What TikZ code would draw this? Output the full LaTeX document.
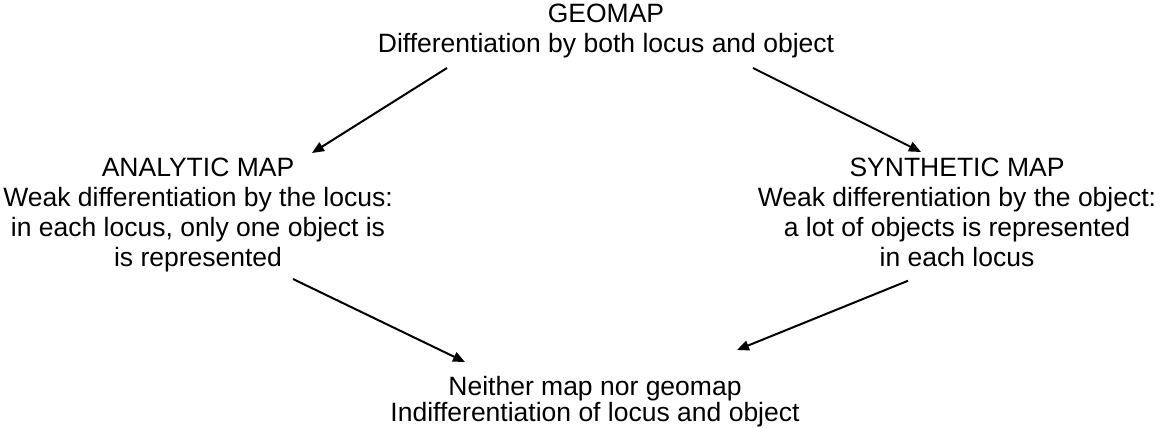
\documentclass[tikz,border=0pt]{standalone}
\usepackage{fontspec}
\setmainfont{Liberation Sans}
\usetikzlibrary{positioning,calc,arrows.meta}
\definecolor{ink}{RGB}{0,0,0}

\begin{document}
\begin{tikzpicture}[
  x=1pt, y=-1pt,
  font=\fontsize{26.5}{30}\selectfont,
  >={Triangle[length=12pt, width=10pt]},
  maptype/.style={align=center, inner sep=0pt, outer sep=0pt, text=ink, anchor=north},
  link/.style={->, line width=2pt, draw=ink},
]
\useasboundingbox (0,0) rectangle (1160,428);

% ---- the four kinds of map ----
\node[maptype] (GEO) at (606,4) {GEOMAP\\Differentiation by both locus and object};
\node[maptype] (ANA) at (198,158) {ANALYTIC MAP\\Weak differentiation by the locus:\\in each locus, only one object is\\is represented};
\node[maptype] (SYN) at (957,158) {SYNTHETIC MAP\\Weak differentiation by the object:\\a lot of objects is represented\\in each locus};
\node[maptype, font=\fontsize{26.5}{26.5}\selectfont] (NON) at (595,376) {Neither map nor geomap\\Indifferentiation of locus and object};

% ---- downward arrows ----
\draw[link] ([shift={(-159,10)}]GEO.south) -- ([shift={(114,-5)}]ANA.north);
\draw[link] ([shift={(147,10)}]GEO.south) -- ([shift={(-36,-6)}]SYN.north);
\draw[link] ([shift={(95,7)}]ANA.south) -- ([shift={(-130,-14)}]NON.north);
\draw[link] ([shift={(-49,14)}]SYN.south) -- ([shift={(142,-26)}]NON.north);

\end{tikzpicture}
\end{document}
